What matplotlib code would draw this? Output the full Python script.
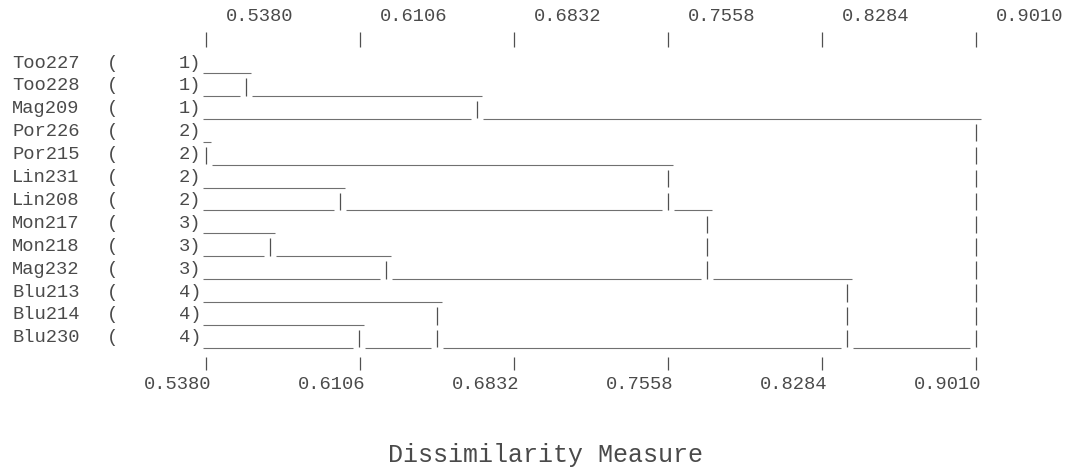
import matplotlib
matplotlib.use("Agg")
import matplotlib.pyplot as plt
import matplotlib.transforms as mtransforms

# ---------------- data ----------------
leaves = ["Too227", "Too228", "Mag209", "Por226", "Por215", "Lin231", "Lin208",
          "Mon217", "Mon218", "Mag232", "Blu213", "Blu214", "Blu230"]
groups = [1, 1, 1, 2, 2, 2, 2, 3, 3, 3, 4, 4, 4]
# merges: (upper cluster id, lower cluster id, dissimilarity); ids >= 13 are merged clusters
merge_a = [0, 13, 3, 5, 15, 7, 18, 17, 11, 10, 20, 14]
merge_b = [1, 2, 4, 6, 16, 8, 9, 19, 12, 21, 22, 23]
merge_h = [0.557, 0.666, 0.538, 0.601, 0.756, 0.568, 0.623, 0.774, 0.610, 0.647, 0.840, 0.901]
tick_values = [0.5380, 0.6106, 0.6832, 0.7558, 0.8284, 0.9010]
tick_labels = ["0.5380", "0.6106", "0.6832", "0.7558", "0.8284", "0.9010"]
xlabel = "Dissimilarity Measure"

# ---------------- layout ----------------
W, H, DPI = 1083, 471, 100
fig = plt.figure(figsize=(W / DPI, H / DPI), dpi=DPI)
ax = fig.add_axes([0, 0, 1, 1])
ax.set_axis_off()

px0, v0, ppu = 206.0, 0.538, 2121.0      # pixel of 0.538, pixels per unit
ax.set_xlim(v0 - px0 / ppu, v0 + (W - px0) / ppu)
row0, rowh = 63.0, 22.9
ax.set_ylim((H - row0) / rowh, -row0 / rowh)

def px2v(dpx):
    return dpx / ppu

FONT = "Liberation Mono"
FS = 13.5
TXT = "#4a4a4a"
HL = "#707070"
VL = "#505050"

UL = 0.44          # underline offset below text centre (rows)
LEFT = v0 - px2v(3)
OVER = px2v(5)
GAP = px2v(6)

n = len(leaves)
# ---------------- row labels ----------------
ytr = ax.get_yaxis_transform()
for i, (name, g) in enumerate(zip(leaves, groups)):
    ax.text(12 / W, i, name, transform=ytr, ha="left", va="center",
            fontsize=FS, family=FONT, color=TXT)
    ax.text(113 / W, i, "(", transform=ytr, ha="center", va="center",
            fontsize=FS, family=FONT, color=TXT)
    ax.text(201 / W, i, f"{g})", transform=ytr, ha="right", va="center",
            fontsize=FS, family=FONT, color=TXT)

# ---------------- tree ----------------
bottom = {i: i for i in range(n)}
start = {i: LEFT for i in range(n)}
for k, (a, b, h) in enumerate(zip(merge_a, merge_b, merge_h)):
    ra, rb = bottom[a], bottom[b]
    # upper child line overshoots slightly
    ax.hlines(ra + UL, start[a], h + OVER, color=HL, lw=0.8)
    # lower child stops short of the join
    if h - GAP > start[b]:
        ax.hlines(rb + UL, start[b], h - GAP, color=HL, lw=0.8)
    # vertical bars, one per text row
    for r in range(ra + 1, rb + 1):
        ax.vlines(h, r - 1 + UL + 0.22, r + UL - 0.02, color=VL, lw=0.9)
    cid = n + k
    bottom[cid] = rb
    start[cid] = h + GAP

# ---------------- axes (text-style) ----------------
yt_top = ((32 - row0) / rowh, (47 - row0) / rowh)
yt_bot = ((357 - row0) / rowh, (370 - row0) / rowh)
off_top = mtransforms.ScaledTranslation(20 / DPI, 0, fig.dpi_scale_trans)
off_bot = mtransforms.ScaledTranslation(5 / DPI, 0, fig.dpi_scale_trans)
for v, lab in zip(tick_values, tick_labels):
    ax.vlines(v, yt_top[0], yt_top[1], color=VL, lw=0.9)
    ax.vlines(v, yt_bot[0], yt_bot[1], color=VL, lw=0.9)
    ax.text(v, (16 - row0) / rowh, lab, transform=ax.transData + off_top,
            ha="left", va="center", fontsize=FS, family=FONT, color=TXT)
    ax.text(v, (384 - row0) / rowh, lab, transform=ax.transData + off_bot,
            ha="right", va="center", fontsize=FS, family=FONT, color=TXT)

ax.text(546 / W, (455 - row0) / rowh, xlabel, transform=ytr, ha="center",
        va="center", fontsize=18, family=FONT, color=TXT)

fig.savefig("out.png", dpi=DPI, facecolor="white")
